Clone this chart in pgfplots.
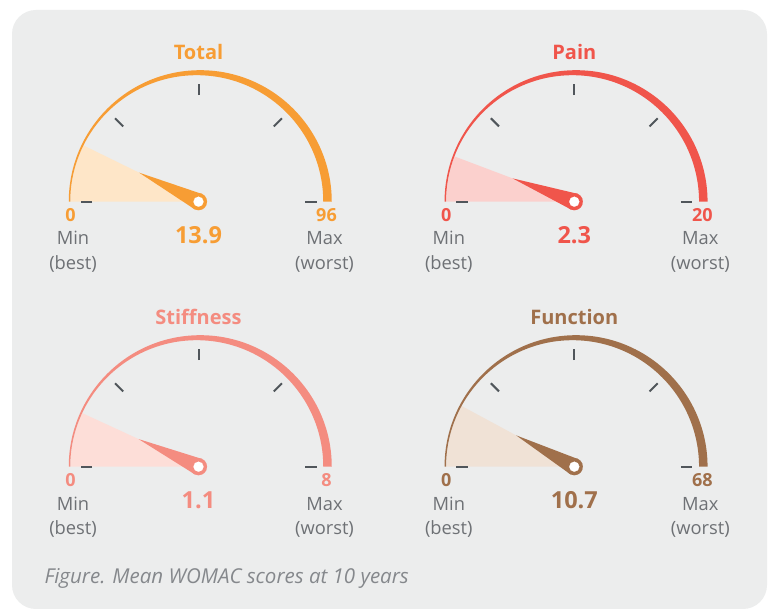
\documentclass[border=0pt]{standalone}
\usepackage{fontspec}
\setmainfont{Open Sans}
\usepackage{pgfplots}
\pgfplotsset{compat=1.18}

\definecolor{bg}{HTML}{ECEDED}
\definecolor{lbl}{HTML}{6E7175}
\definecolor{tickc}{HTML}{50565B}
\definecolor{capc}{HTML}{85888C}
\definecolor{totc}{HTML}{F79D34}
\definecolor{totw}{HTML}{FEE6C8}
\definecolor{painc}{HTML}{F0554B}
\definecolor{painw}{HTML}{FBD0CD}
\definecolor{stic}{HTML}{F48C80}
\definecolor{stiw}{HTML}{FDDED8}
\definecolor{func}{HTML}{A0704B}
\definecolor{funw}{HTML}{F0E2D6}

% #1 title, #2 value, #3 max, #4 colour, #5 wedge colour, #6 cx, #7 cy
\newcommand{\gauge}[7]{%
  \pgfmathsetmacro\ang{180*(1-#2/#3)}%
  \pgfmathsetmacro\tipx{66*cos(\ang)}%
  \pgfmathsetmacro\tipy{66*sin(\ang)}%
  \pgfmathsetmacro\pax{8.5*cos(\ang+90)}%
  \pgfmathsetmacro\pay{8.5*sin(\ang+90)}%
  \pgfmathsetmacro\pbx{8.5*cos(\ang-90)}%
  \pgfmathsetmacro\pby{8.5*sin(\ang-90)}%
  \pgfmathsetmacro\axx{#6-150}%
  \pgfmathsetmacro\axy{#7-80}%
  \begin{axis}[
    at={(\axx pt,\axy pt)}, anchor=south west,
    x=1pt, y=1pt, xmin=-150, xmax=150, ymin=-80, ymax=160,
    axis lines=none, clip=false, ticks=none]
    % wedge
    \fill[#5] (axis cs:0,0) -- (axis cs:-128,0) arc[start angle=180, end angle=\ang, radius=128pt] -- cycle;
    % tapered arc
    \fill[#4] (axis cs:-129.75,0) arc[start angle=180, end angle=0, radius=131.5pt]
      -- (axis cs:124.75,0) arc[start angle=0, end angle=180, radius=126.5pt] -- cycle;
    % ticks
    \pgfplotsinvokeforeach{0,45,90,135,180}{%
      \draw[tickc, line width=2pt] (axis cs:0,0) ++(##1:106.5pt) -- ++(##1:11.5pt);
    }
    % needle
    \edef\needle{\noexpand\addplot[fill=#4, draw=none] coordinates {(\tipx,\tipy) (\pax,\pay) (\pbx,\pby)} -- cycle;}%
    \needle
    \addplot[only marks, mark=*, color=#4, mark size=8.5pt, mark options={solid, fill=#4, draw=#4, line width=0.1pt}] coordinates {(0,0)};
    \addplot[only marks, mark=*, color=white, mark size=5pt, mark options={solid, fill=white, draw=white, line width=0.1pt}] coordinates {(0,0)};
    % labels
    \node[anchor=base, font=\fontsize{20}{22}\selectfont\bfseries, text=#4] at (axis cs:0,142.4) {#1};
    \node[anchor=base, font=\fontsize{23.5}{25}\selectfont\bfseries, text=#4] at (axis cs:0,-41.7) {#2};
    \node[anchor=base, font=\fontsize{18}{20}\selectfont\bfseries, text=#4] at (axis cs:-128,-20) {0};
    \node[anchor=base, font=\fontsize{18}{20}\selectfont\bfseries, text=#4] at (axis cs:128,-20) {#3};
    \node[anchor=base, font=\fontsize{18.3}{20}\selectfont, text=lbl] at (axis cs:-125.5,-43.3) {Min};
    \node[anchor=base, font=\fontsize{18.3}{20}\selectfont, text=lbl] at (axis cs:-125.5,-67.5) {(best)};
    \node[anchor=base, font=\fontsize{18.3}{20}\selectfont, text=lbl] at (axis cs:126,-43.3) {Max};
    \node[anchor=base, font=\fontsize{18.3}{20}\selectfont, text=lbl] at (axis cs:126,-67.5) {(worst)};
  \end{axis}%
}

\begin{document}
\begin{tikzpicture}[x=1pt,y=1pt]
  \useasboundingbox (0,0) rectangle (768,608);
  \fill[white] (0,0) rectangle (768,608);
  \begin{scope}
    \clip (0,0) rectangle (768,608);
    \fill[bg, rounded corners=24pt] (12,-1) rectangle (767,598);
  \end{scope}
  \gauge{Total}{13.9}{96}{totc}{totw}{198.5}{406.3}
  \gauge{Pain}{2.3}{20}{painc}{painw}{574.3}{406.3}
  \gauge{Stiffness}{1.1}{8}{stic}{stiw}{198.5}{141.3}
  \gauge{Function}{10.7}{68}{func}{funw}{574.3}{141.3}
  \node[anchor=base west, font=\fontsize{20.5}{22}\selectfont\itshape, text=capc] at (41,25) {Figure. Mean WOMAC scores at 10 years};
\end{tikzpicture}
\end{document}
